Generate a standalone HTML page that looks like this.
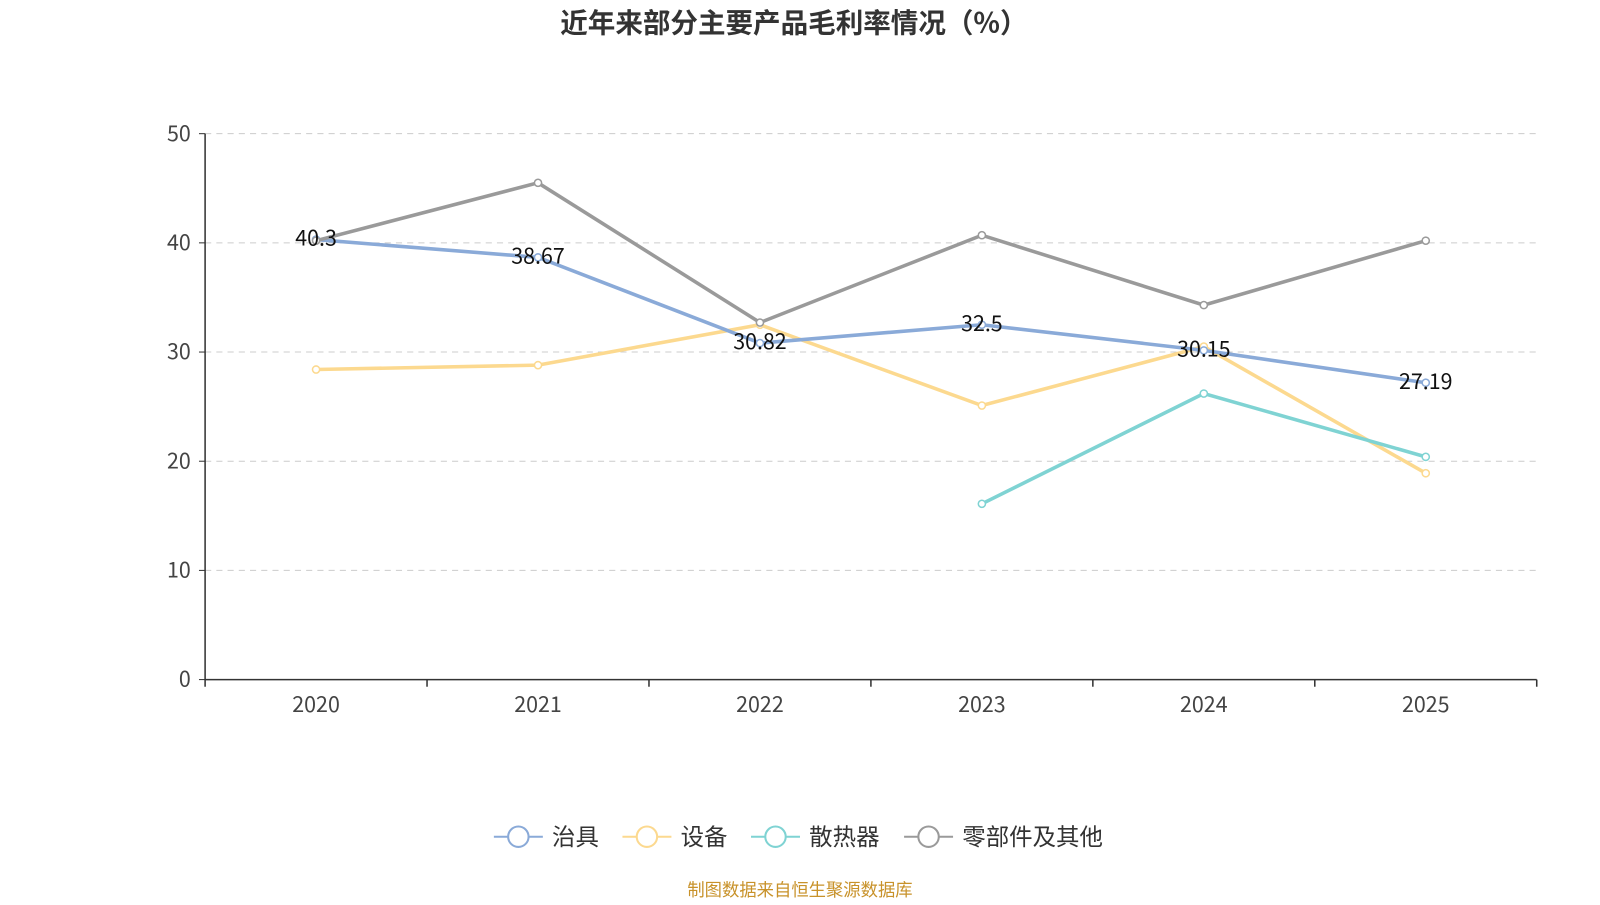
<!DOCTYPE html>
<html><head><meta charset="utf-8"><style>
body{margin:0;background:#fff;}
svg text{font-family:"Noto Sans CJK SC","Liberation Sans",sans-serif;}
</style></head><body>
<svg id="chart" width="1600" height="900">
<g transform="scale(1.0204)">
<text x="778" y="32" text-anchor="middle" font-size="27" font-weight="bold" fill="#333">近年来部分主要产品毛利率情况（%）</text>
<g id="grid"></g><g id="axes"></g><g id="series"></g><g id="legend"></g>
<text x="784" y="878" text-anchor="middle" font-size="17" fill="#c8922a">制图数据来自恒生聚源数据库</text>
</g>
</svg>
<script>
const categories=["2020","2021","2022","2023","2024","2025"];
const seriesNames=["治具","设备","散热器","零部件及其他"];
const jig=[40.3,38.67,30.82,32.5,30.15,27.19];
const equip=[28.4,28.8,32.5,25.1,30.5,18.9];
const heatsink=[null,null,null,16.1,26.2,20.4];
const parts=[40.2,45.5,32.7,40.7,34.3,40.2];
const yTicks=[0,10,20,30,40,50];
const colors=["#8aaad8","#fcd98f","#7fd3d3","#9a9a9a"];
const NS="http://www.w3.org/2000/svg";
const L=201,R=1506,T=131,B=666;
const step=(R-L)/categories.length;
const xs=i=>L+step*(i+0.5);
const ys=v=>B-(v/50)*(B-T);
function mk(tag,attrs,parent,text){const e=document.createElementNS(NS,tag);for(const k in attrs)e.setAttribute(k,attrs[k]);if(text!=null)e.textContent=text;parent.appendChild(e);return e;}
const grid=document.getElementById('grid'),axes=document.getElementById('axes'),ser=document.getElementById('series'),leg=document.getElementById('legend');
yTicks.forEach(t=>{
 if(t>0){const g=mk('line',{x1:L,x2:R,y1:ys(t),y2:ys(t),stroke:'#ccc','stroke-dasharray':'6,5'},grid);
 
 }
 const tl=mk('text',{x:L-14,y:ys(t)+7,'text-anchor':'end','font-size':21,fill:'#444'},axes,String(t));
 
 
 mk('line',{x1:L-6,x2:L,y1:ys(t),y2:ys(t),stroke:'#333'},axes);
});
const ya=mk('line',{x1:L,x2:L,y1:T,y2:B,stroke:'#333','stroke-width':1.5},axes);


const xa=mk('line',{x1:L,x2:R,y1:B,y2:B,stroke:'#333','stroke-width':1.5},axes);


for(let i=0;i<=categories.length;i++)mk('line',{x1:L+step*i,x2:L+step*i,y1:B,y2:B+7,stroke:'#333','stroke-width':1.5},axes);
categories.forEach((c,i)=>{const t=mk('text',{x:xs(i),y:698,'text-anchor':'middle','font-size':21,fill:'#444'},axes,c);
 
 });
const all=[jig,equip,heatsink,parts];
[1,2,0,3].forEach(si=>{
 const d=all[si];let p='';
 d.forEach((v,i)=>{if(v==null)return;p+=(p?'L':'M')+xs(i)+','+ys(v);});
 const g=mk('g',{},ser);
 
 
 const pa=mk('path',{d:p,fill:'none',stroke:colors[si],'stroke-width':3.5},g);
 
 
 d.forEach((v,i)=>{if(v==null)return;
  const c=mk('circle',{cx:xs(i),cy:ys(v),r:3.5,fill:'#fff',stroke:colors[si],'stroke-width':1.5},g);
  
  });
});
jig.forEach((v,i)=>{const t=mk('text',{x:xs(i),y:ys(v)+6,'text-anchor':'middle','font-size':21,fill:'#111'},ser,String(v));
 
 });
const lx=[484,610,736,886];
seriesNames.forEach((n,i)=>{const g=mk('g',{},leg);
 
 
 mk('line',{x1:lx[i],x2:lx[i]+48,y1:820,y2:820,stroke:colors[i],'stroke-width':2},g);
 mk('circle',{cx:lx[i]+24,cy:820,r:10,fill:'#fff',stroke:colors[i],'stroke-width':2},g);
 mk('text',{x:lx[i]+57,y:828,'font-size':23,fill:'#333'},g,n);});
</script>
</body></html>
